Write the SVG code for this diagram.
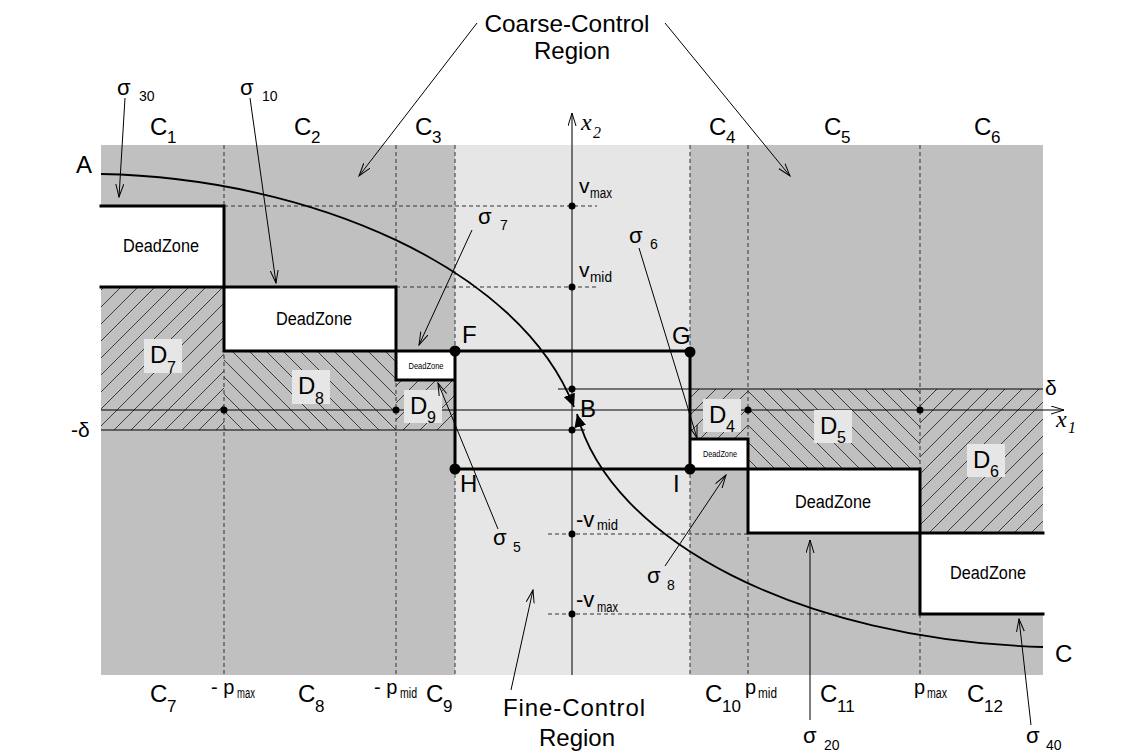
<svg xmlns="http://www.w3.org/2000/svg" width="1140" height="753" viewBox="0 0 1140 753">
<style>
  text { font-family: "Liberation Sans", Arial, sans-serif; fill: #000; }
  .big { font-size: 24px; }
  .sub { font-size: 17px; }
  .dl { font-size: 24px; }
  .dsub { font-size: 16px; }
  .dz { font-size: 18px; text-anchor: middle; }
  .dzs { font-size: 9px; text-anchor: middle; }
  .sig { font-size: 22px; }
  .ssub { font-size: 14px; }
  .ax { font-family: "Liberation Serif", "Times New Roman", serif; font-style: italic; font-size: 24px; }
  .axs { font-family: "Liberation Serif", "Times New Roman", serif; font-style: italic; font-size: 16px; }
  .dash { stroke: #333; stroke-width: 1; stroke-dasharray: 4 3; fill: none; }
  .thick { stroke: #000; stroke-width: 3; fill: none; stroke-linecap: square; }
  .thin { stroke: #000; stroke-width: 1; fill: none; }
  .arr { stroke: #000; stroke-width: 1; fill: none; marker-end: url(#open); }
  .curve { stroke: #000; stroke-width: 1.8; fill: none; marker-end: url(#tri); }
  .dbox { fill: #e6e6e6; }
  .dzbox { fill: #fff; }
</style>
<defs>
  <pattern id="hatchF" patternUnits="userSpaceOnUse" width="17" height="17">
    <rect width="17" height="17" fill="#c0c0c0"/>
    <path d="M0,17 L17,0 M-4.25,4.25 L4.25,-4.25 M12.75,21.25 L21.25,12.75" stroke="#1a1a1a" stroke-width="0.8"/>
  </pattern>
  <pattern id="hatchB" patternUnits="userSpaceOnUse" width="17" height="17">
    <rect width="17" height="17" fill="#c0c0c0"/>
    <path d="M0,0 L17,17 M-4.25,12.75 L4.25,21.25 M12.75,-4.25 L21.25,4.25" stroke="#1a1a1a" stroke-width="0.8"/>
  </pattern>
  <marker id="open" markerUnits="userSpaceOnUse" markerWidth="14" markerHeight="10" refX="13" refY="4.5" orient="auto">
    <path d="M0,0.5 L13,4.5 L0,8.5" fill="none" stroke="#000" stroke-width="1"/>
  </marker>
  <marker id="tri" markerUnits="userSpaceOnUse" markerWidth="14" markerHeight="12" refX="13" refY="6" orient="auto">
    <path d="M0,0 L13,6 L0,12 z" fill="#000"/>
  </marker>
</defs>

<rect width="1140" height="753" fill="#fff"/>

<g id="coarse-region"><rect x="101" y="145" width="942" height="530" fill="#c0c0c0"/></g>
<g id="fine-region"><rect x="455" y="145" width="235" height="530" fill="#e6e6e6"/></g>

<g id="hatched-regions">
  <rect id="D7-area" x="101" y="287" width="123" height="143" fill="url(#hatchF)"/>
  <rect id="D8-area" x="224" y="351" width="172" height="79" fill="url(#hatchB)"/>
  <rect id="D9-area" x="396" y="380" width="59" height="50" fill="url(#hatchF)"/>
  <rect id="D4-area" x="690" y="389" width="58" height="50" fill="url(#hatchF)"/>
  <rect id="D5-area" x="748" y="389" width="172" height="81" fill="url(#hatchB)"/>
  <rect id="D6-area" x="920" y="389" width="123" height="144" fill="url(#hatchF)"/>
</g>

<g id="deadzones">
  <g id="deadzone-1"><rect class="dzbox" x="101" y="206" width="123" height="81"/><text class="dz" x="161" y="252" textLength="76" lengthAdjust="spacingAndGlyphs">DeadZone</text></g>
  <g id="deadzone-2"><rect class="dzbox" x="224" y="287" width="172" height="64"/><text class="dz" x="314" y="325" textLength="76" lengthAdjust="spacingAndGlyphs">DeadZone</text></g>
  <g id="deadzone-3"><rect class="dzbox" x="396" y="351" width="59" height="29"/><text class="dzs" x="426" y="369" textLength="35" lengthAdjust="spacingAndGlyphs">DeadZone</text></g>
  <g id="deadzone-4"><rect class="dzbox" x="690" y="439" width="58" height="30"/><text class="dzs" x="720" y="457" textLength="34" lengthAdjust="spacingAndGlyphs">DeadZone</text></g>
  <g id="deadzone-5"><rect class="dzbox" x="748" y="469" width="172" height="64"/><text class="dz" x="833" y="508" textLength="76" lengthAdjust="spacingAndGlyphs">DeadZone</text></g>
  <g id="deadzone-6"><rect class="dzbox" x="920" y="533" width="123" height="81"/><text class="dz" x="988" y="579" textLength="76" lengthAdjust="spacingAndGlyphs">DeadZone</text></g>
</g>

<g id="grid">
  <path class="dash" d="M224,145 V675 M396,145 V675 M455,145 V675 M690,145 V675 M748,145 V675 M920,145 V675"/>
  <path class="dash" d="M224,206 H597 M396,287 H597 M548,534 H748 M548,614 H920"/>
</g>

<g id="axes">
  <path class="thin" d="M101,410 H1064" marker-end="url(#open)"/>
  <path d="M572,675 V113" stroke="#333" stroke-width="1.3" fill="none" marker-end="url(#open)"/>
  <path class="thin" d="M558,389 H1043"/>
  <path class="thin" d="M101,430 H585"/>
</g>

<g id="boundaries">
  <path class="thick" d="M101,206 H224 V351 M101,287 H396 V380 H455 M224,351 H690 M455,351 V469 H920 V614 H1043 M690,351 V469 M690,439 H748 V533 H1043"/>
</g>

<g id="D-labels">
  <g id="D7"><rect class="dbox" x="144" y="339" width="38" height="34"/><text class="dl" x="150" y="363">D</text><text class="dsub" x="167" y="373">7</text></g>
  <g id="D8"><rect class="dbox" x="292" y="370" width="38" height="34"/><text class="dl" x="298" y="394">D</text><text class="dsub" x="315" y="404">8</text></g>
  <g id="D9"><rect class="dbox" x="404" y="390" width="38" height="33"/><text class="dl" x="410" y="414">D</text><text class="dsub" x="427" y="423">9</text></g>
  <g id="D4"><rect class="dbox" x="703" y="399" width="38" height="33"/><text class="dl" x="709" y="423">D</text><text class="dsub" x="726" y="432">4</text></g>
  <g id="D5"><rect class="dbox" x="814" y="410" width="38" height="33"/><text class="dl" x="820" y="434">D</text><text class="dsub" x="837" y="443">5</text></g>
  <g id="D6"><rect class="dbox" x="967" y="444" width="38" height="33"/><text class="dl" x="973" y="468">D</text><text class="dsub" x="990" y="477">6</text></g>
</g>

<g id="connectors">
  <path id="curve-A-B" class="curve" d="M101,174 C310,178 520,268 574,407"/>
  <path id="curve-C-B" class="curve" d="M1043,647 C800,640 610,540 577,414"/>
  <path class="arr" d="M125,98 L119,197"/>
  <path class="arr" d="M250,98 L276,283"/>
  <path class="arr" d="M472,230 L419,345"/>
  <path class="arr" d="M639,248 L697,438"/>
  <path class="arr" d="M498,529 L438,383"/>
  <path class="arr" d="M665,566 L726,475"/>
  <path class="arr" d="M810,720 L810,540"/>
  <path class="arr" d="M1031,725 L1019,619"/>
  <path class="arr" d="M477,23 L359,176"/>
  <path class="arr" d="M665,23 L790,176"/>
  <path class="arr" d="M511,690 L533,590"/>
</g>

<g id="points">
  <g fill="#000">
    <circle cx="224" cy="410" r="3.5"/><circle cx="396" cy="410" r="3.5"/>
    <circle cx="748" cy="410" r="3.5"/><circle cx="920" cy="410" r="3.5"/>
    <circle cx="572" cy="206" r="3.5"/><circle cx="572" cy="287" r="3.5"/>
    <circle cx="572" cy="389" r="3.5"/><circle cx="572" cy="430" r="3.5"/>
    <circle cx="572" cy="534" r="3.5"/><circle cx="572" cy="614" r="3.5"/>
  </g>
  <g id="F"><circle cx="455" cy="351" r="5.5"/><text class="big" x="462" y="343">F</text></g>
  <g id="G"><circle cx="690" cy="352" r="5.5"/><text class="big" x="672" y="344">G</text></g>
  <g id="H"><circle cx="455" cy="469" r="5.5"/><text class="big" x="460" y="492">H</text></g>
  <g id="I"><circle cx="690" cy="469" r="5.5"/><text class="big" x="673" y="492">I</text></g>
  <g id="B"><text class="big" x="580" y="417">B</text></g>
  <g id="A"><text class="big" x="76" y="173">A</text></g>
  <g id="C"><text class="big" x="1055" y="662">C</text></g>
</g>

<g id="axis-labels">
  <text class="ax" x="581" y="130">x</text><text class="axs" x="593" y="138">2</text>
  <text class="ax" x="1056" y="427">x</text><text class="axs" x="1068" y="433">1</text>
  <text style="font-size:21px" x="1045" y="395">δ</text>
  <text style="font-size:21px" x="71" y="437">-δ</text>
  <text style="font-size:21px" x="579" y="193">v</text><text style="font-size:14px" x="590" y="198" textLength="22" lengthAdjust="spacingAndGlyphs">max</text>
  <text style="font-size:21px" x="579" y="277">v</text><text style="font-size:14px" x="590" y="282" textLength="22" lengthAdjust="spacingAndGlyphs">mid</text>
  <text style="font-size:22px" x="576" y="527">-v</text><text style="font-size:14px" x="597" y="530" textLength="21" lengthAdjust="spacingAndGlyphs">mid</text>
  <text style="font-size:22px" x="576" y="607">-v</text><text style="font-size:14px" x="597" y="612" textLength="21" lengthAdjust="spacingAndGlyphs">max</text>
  <text style="font-size:20px" x="211" y="694">- p</text><text style="font-size:14px" x="237" y="698" textLength="18" lengthAdjust="spacingAndGlyphs">max</text>
  <text style="font-size:20px" x="374" y="694">- p</text><text style="font-size:14px" x="400" y="698" textLength="17" lengthAdjust="spacingAndGlyphs">mid</text>
  <text style="font-size:20px" x="745" y="694">p</text><text style="font-size:14px" x="758" y="698" textLength="19" lengthAdjust="spacingAndGlyphs">mid</text>
  <text style="font-size:20px" x="914" y="694">p</text><text style="font-size:14px" x="927" y="698" textLength="20" lengthAdjust="spacingAndGlyphs">max</text>
</g>

<g id="cell-labels">
  <text class="big" x="150" y="135">C</text><text class="sub" x="167" y="143">1</text>
  <text class="big" x="294" y="135">C</text><text class="sub" x="311" y="143">2</text>
  <text class="big" x="415" y="135">C</text><text class="sub" x="432" y="143">3</text>
  <text class="big" x="709" y="135">C</text><text class="sub" x="726" y="143">4</text>
  <text class="big" x="824" y="135">C</text><text class="sub" x="841" y="143">5</text>
  <text class="big" x="974" y="135">C</text><text class="sub" x="991" y="143">6</text>
  <text class="big" x="150" y="702">C</text><text class="sub" x="167" y="712">7</text>
  <text class="big" x="298" y="702">C</text><text class="sub" x="315" y="712">8</text>
  <text class="big" x="426" y="702">C</text><text class="sub" x="443" y="712">9</text>
  <text class="big" x="705" y="702">C</text><text class="sub" x="722" y="712">10</text>
  <text class="big" x="820" y="702">C</text><text class="sub" x="837" y="712">11</text>
  <text class="big" x="967" y="702">C</text><text class="sub" x="984" y="712">12</text>
</g>

<g id="sigma-labels">
  <text class="sig" x="117" y="95">σ</text><text class="ssub" x="139" y="101">30</text>
  <text class="sig" x="240" y="95">σ</text><text class="ssub" x="262" y="101">10</text>
  <text class="sig" x="478" y="224">σ</text><text class="ssub" x="500" y="230">7</text>
  <text class="sig" x="629" y="243">σ</text><text class="ssub" x="650" y="249">6</text>
  <text class="sig" x="493" y="545">σ</text><text class="ssub" x="513" y="552">5</text>
  <text class="sig" x="647" y="583">σ</text><text class="ssub" x="667" y="590">8</text>
  <text class="sig" x="803" y="743">σ</text><text class="ssub" x="824" y="750">20</text>
  <text class="sig" x="1026" y="743">σ</text><text class="ssub" x="1046" y="750">40</text>
</g>

<g id="region-titles">
  <text class="big" x="567" y="32" text-anchor="middle" textLength="165" lengthAdjust="spacingAndGlyphs">Coarse-Control</text>
  <text class="big" x="572" y="59" text-anchor="middle">Region</text>
  <text class="big" x="574" y="716" text-anchor="middle" textLength="142" lengthAdjust="spacing">Fine-Control</text>
  <text class="big" x="577" y="746" text-anchor="middle">Region</text>
</g>
</svg>
